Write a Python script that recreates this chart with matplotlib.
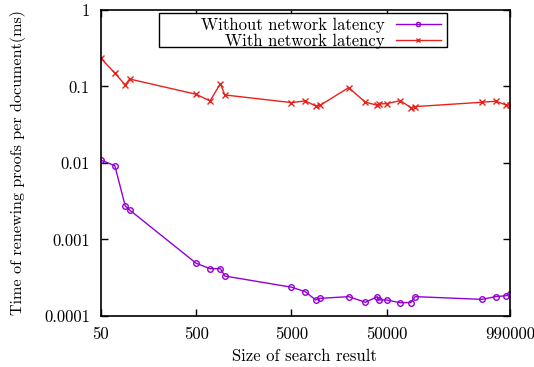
import numpy as np
import matplotlib
matplotlib.use('Agg')
import matplotlib.pyplot as plt
from matplotlib.patches import Rectangle

plt.rcParams['font.family'] = ['cmr10', 'DejaVu Serif']
plt.rcParams['axes.formatter.use_mathtext'] = True

# size of search result
sizes = [50, 70, 90, 100, 500, 700, 900, 1000, 5000, 7000, 9000, 10000,
         20000, 30000, 40000, 42000, 50000, 70000, 90000, 100000,
         500000, 700000, 900000, 990000]

# time per document (ms)
no_latency = [0.0109, 0.0092, 0.00274, 0.00243, 0.000489, 0.000415, 0.000415,
              0.000333, 0.000238, 0.000208, 0.000162, 0.00017,
              0.000179, 0.000151, 0.000179, 0.000162, 0.000162, 0.000149,
              0.00015, 0.000179, 0.000165, 0.000179, 0.000184, 0.000192]
with_latency = [0.234, 0.149, 0.105, 0.125, 0.079, 0.0646, 0.109, 0.0774,
                0.0615, 0.0646, 0.0556, 0.0565, 0.0964, 0.0621, 0.0568,
                0.059, 0.0596, 0.0652, 0.0528, 0.0545, 0.0621, 0.064,
                0.0574, 0.057]

xticks = [50, 500, 5000, 50000, 990000]
xticklabels = ['50', '500', '5000', '50000', '990000']
yticks = [0.0001, 0.001, 0.01, 0.1, 1]
yticklabels = ['0.0001', '0.001', '0.01', '0.1', '1']

fig = plt.figure(figsize=(5.34, 3.67), dpi=100)
ax = fig.add_axes([0.189, 0.139, 0.766, 0.834])

ax.plot(sizes, no_latency, '-o', color='#9400d3', lw=1, ms=4,
        mfc='none', mew=1, label='Without network latency')
ax.plot(sizes, with_latency, '-x', color='#e8221b', lw=1, ms=4,
        mew=1, label='With network latency')

ax.set_xscale('log')
ax.set_yscale('log')
ax.set_xlim(50, 990000)
ax.set_ylim(0.0001, 1)
ax.minorticks_off()
ax.set_xticks(xticks)
ax.set_xticklabels(xticklabels)
ax.set_yticks(yticks)
ax.set_yticklabels(yticklabels)
ax.tick_params(direction='in', top=True, right=True, length=5, width=1,
               labelsize=12, pad=8)
for s in ax.spines.values():
    s.set_linewidth(1.2)

ax.set_xlabel('Size of search result', fontsize=12)
ax.set_ylabel('Time of renewing proofs per document(ms)', fontsize=11.6)
ax.xaxis.set_label_coords(0.4975, -0.108)
ax.yaxis.set_label_coords(-0.183, 0.5)

leg = ax.legend(loc='upper right', bbox_to_anchor=(0.839, 0.985),
                markerfirst=False, frameon=False, fontsize=12,
                handlelength=2.7, handletextpad=0.66,
                borderpad=0.2, labelspacing=0.05, borderaxespad=0)
for h in leg.legend_handles:
    h.set_markersize(3)

# legend box, wider than the text like gnuplot draws it
ax.add_patch(Rectangle((0.142, 0.88), 0.704, 0.11, transform=ax.transAxes,
                       fill=True, facecolor='white', edgecolor='black',
                       lw=1, zorder=4))
leg.set_zorder(5)

plt.savefig('out.png', dpi=100)
